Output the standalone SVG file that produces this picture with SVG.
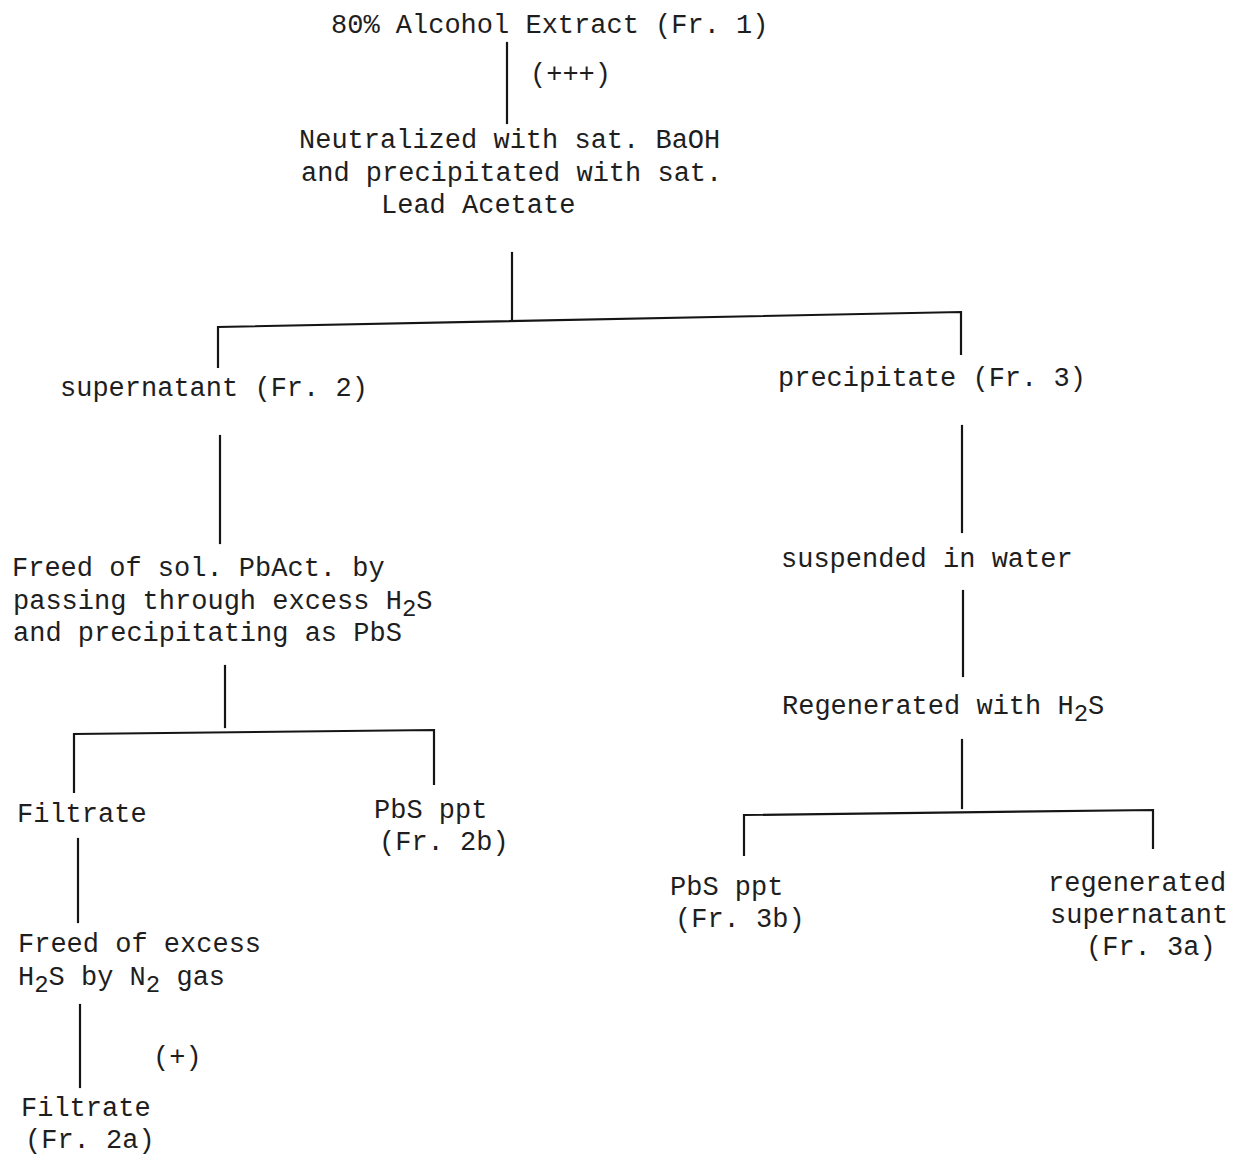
<svg xmlns="http://www.w3.org/2000/svg" width="1235" height="1155" viewBox="0 0 1235 1155">
<style>
text{font-family:"Liberation Mono","Courier New",monospace;font-size:27px;fill:#1e1e1e}
.sub{font-size:24px}
.ln{stroke:#151515;stroke-width:2.2;fill:none;stroke-linecap:square}
</style>
<rect width="1235" height="1155" fill="#ffffff"/>
<g id="connectors">
<line class="ln" x1="507" y1="43" x2="507" y2="123"/>
<line class="ln" x1="512" y1="253" x2="512" y2="320"/>
<polyline class="ln" points="218,367 218,327 961,312 961,354"/>
<line class="ln" x1="220" y1="436" x2="220" y2="543"/>
<line class="ln" x1="225" y1="666" x2="225" y2="727"/>
<polyline class="ln" points="74,792 74,734 434,730 434,784"/>
<line class="ln" x1="78" y1="839" x2="78" y2="922"/>
<line class="ln" x1="80" y1="1005" x2="80" y2="1087"/>
<line class="ln" x1="962" y1="426" x2="962" y2="532"/>
<line class="ln" x1="963" y1="591" x2="963" y2="676"/>
<line class="ln" x1="962" y1="740" x2="962" y2="808"/>
<polyline class="ln" points="744,855 744,815 1153,810 1153,848"/>
<text x="530" y="82">(+++)</text>
<text x="153" y="1065">(+)</text>
</g>
<g id="n1"><text x="331" y="33">80% Alcohol Extract (Fr. 1)</text></g>
<g id="n2">
<text x="299" y="148">Neutralized with sat. BaOH</text>
<text x="301" y="181">and precipitated with sat.</text>
<text x="381" y="213">Lead Acetate</text>
</g>
<g id="n3"><text x="60" y="396">supernatant (Fr. 2)</text></g>
<g id="n4"><text x="778" y="386">precipitate (Fr. 3)</text></g>
<g id="n5">
<text x="12" y="576">Freed of sol. PbAct. by</text>
<text x="13" y="609">passing through excess H<tspan class="sub" dy="7">2</tspan><tspan dy="-7">S</tspan></text>
<text x="13" y="641">and precipitating as PbS</text>
</g>
<g id="n6"><text x="781" y="567">suspended in water</text></g>
<g id="n7"><text x="782" y="714">Regenerated with H<tspan class="sub" dy="7">2</tspan><tspan dy="-7">S</tspan></text></g>
<g id="n8"><text x="17" y="822">Filtrate</text></g>
<g id="n9">
<text x="374" y="818">PbS ppt</text>
<text x="379" y="850">(Fr. 2b)</text>
</g>
<g id="n10">
<text x="18" y="952">Freed of excess</text>
<text x="18" y="985">H<tspan class="sub" dy="7">2</tspan><tspan dy="-7">S by N</tspan><tspan class="sub" dy="7">2</tspan><tspan dy="-7"> gas</tspan></text>
</g>
<g id="n11">
<text x="21" y="1116">Filtrate</text>
<text x="25" y="1148">(Fr. 2a)</text>
</g>
<g id="n12">
<text x="670" y="895">PbS ppt</text>
<text x="675" y="927">(Fr. 3b)</text>
</g>
<g id="n13">
<text x="1048" y="891">regenerated</text>
<text x="1050" y="923">supernatant</text>
<text x="1086" y="955">(Fr. 3a)</text>
</g>
</svg>
